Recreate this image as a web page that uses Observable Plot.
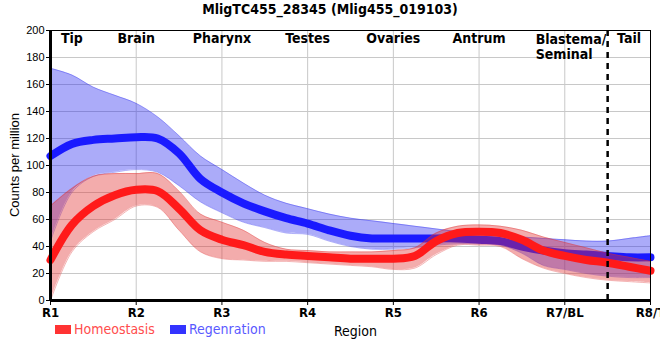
<!DOCTYPE html>
<html><head><meta charset="utf-8">
<script src="https://cdn.jsdelivr.net/npm/d3@7"></script>
<script src="https://cdn.jsdelivr.net/npm/@observablehq/plot@0.6"></script>
<style>
body{margin:0;background:#fff;}
#wrap{position:relative;width:660px;height:360px;overflow:hidden;font-family:"Liberation Sans Narrow","Arial Narrow","DejaVu Sans Condensed",sans-serif;}
#title{position:absolute;top:0px;left:0;width:660px;text-align:center;font-weight:bold;font-size:14px;line-height:18px;}
#chart{position:absolute;top:0;left:0;}
#ylab{position:absolute;left:15px;top:165px;width:200px;margin-left:-100px;margin-top:-8px;text-align:center;transform:rotate(-90deg);font-family:"Liberation Sans",Arial,sans-serif;font-size:13px;line-height:16px;}
.lg{position:absolute;font-size:14px;line-height:16px;}
.sw{position:absolute;width:16px;height:9px;}
</style></head>
<body>
<div id="wrap">
<div id="chart"></div>
<div id="title">MligTC455_28345 (Mlig455_019103)</div>
<div id="ylab">Counts per million</div>
<div class="sw" style="left:55px;top:325px;background:#ff3333"></div>
<div class="lg" style="left:74px;top:321px;color:#ff4d4d">Homeostasis</div>
<div class="sw" style="left:170px;top:325px;background:#3333ff"></div>
<div class="lg" style="left:189px;top:321px;color:#5a5aff">Regenration</div>
<div class="lg" style="left:334px;top:323px;color:#000">Region</div>
</div>
<script>
const xTicks = ["R1","R2","R3","R4","R5","R6","R7/BL","R8/T"];
const regionNames = ["Tip","Brain","Pharynx","Testes","Ovaries","Antrum","Tail"];
const regionLabelX = [1.25, 2, 3, 4, 5, 6, 7.75];
const blastemaLabel = "Blastema/\nSeminal";
const blastemaLabelX = [6.66];
const dividerX = [7.5];

const xs = [1,1.25,1.5,1.75,2,2.25,2.5,2.75,3,3.25,3.5,3.75,4,4.25,4.5,4.75,5,5.25,5.5,5.75,6,6.25,6.5,6.75,7,7.25,7.5,7.75,8];
const homeoMean = [30,56,70,78,82,81,68,52,45,41,36,34,33,32,31,31,31,33,44,50,51,50,45,37,33,30,28,25,22];
const homeoHigh = [70,83,92,94,94,94,81,64,58,52,43,38,37,36,36,36,37,39,50,55,56,55,52,47,43,39,35,32,29];
const homeoLow  = [0,36,51,60,70,69,52,36,31,30,29,29,28,27,26,25,23,24,34,41,41,40,31,24,20,17,15,14,13];
const regenMean = [107,116,119,120,121,120,109,90,80,72,66,61,57,52,48,46,46,46,46,46,45,44,40,37,35,34,33,32,32];
const regenHigh = [172,167,158,152,146,136,122,107,97,87,78,72,68,64,61,59,57,55,53,51,49,48,47,46,45,44,44,46,48];
const regenLow  = [44,80,92,95,97,95,85,73,65,58,54,50,49,44,40,38,38,39,41,42,42,41,35,26,23,20,18,17,17];

const homeo = xs.map((x,i)=>({x, m:homeoMean[i], lo:homeoLow[i], hi:homeoHigh[i]}));
const regen = xs.map((x,i)=>({x, m:regenMean[i], lo:regenLow[i], hi:regenHigh[i]}));
const labels = regionNames.map((n,i)=>({n, x:regionLabelX[i]}));
const curve = "catmull-rom";
const RED = "#ff1a1a", BLUE = "#1a1aff";

const chart = Plot.plot({
  width: 660, height: 345,
  marginLeft: 50, marginRight: 10, marginTop: 30, marginBottom: 45,
  style: {fontFamily: '"Liberation Sans Narrow","Arial Narrow","DejaVu Sans Condensed",sans-serif', background: "transparent", overflow: "visible"},
  x: {domain: [1, 8]},
  y: {domain: [0, 200]},
  marks: [
    Plot.gridX({ticks: d3.range(1, 9), stroke: "#c8c8c8", strokeOpacity: 1}),
    Plot.gridY({ticks: d3.range(0, 201, 20), stroke: "#c8c8c8", strokeOpacity: 1}),
    Plot.areaY(regen, {x: "x", y1: "lo", y2: "hi", fill: "#2222ee", fillOpacity: 0.38, curve}),
    Plot.lineY(regen, {x: "x", y: "hi", stroke: "#2222ee", strokeOpacity: 0.45, strokeWidth: 0.8, curve}),
    Plot.lineY(regen, {x: "x", y: "lo", stroke: "#2222ee", strokeOpacity: 0.45, strokeWidth: 0.8, curve}),
    Plot.lineY(regen, {x: "x", y: "m", stroke: BLUE, strokeWidth: 8, curve}),
    Plot.areaY(homeo, {x: "x", y1: "lo", y2: "hi", fill: "#e03030", fillOpacity: 0.4, curve}),
    Plot.lineY(homeo, {x: "x", y: "hi", stroke: "#e03030", strokeOpacity: 0.45, strokeWidth: 0.8, curve}),
    Plot.lineY(homeo, {x: "x", y: "lo", stroke: "#e03030", strokeOpacity: 0.45, strokeWidth: 0.8, curve}),
    Plot.lineY(homeo, {x: "x", y: "m", stroke: RED, strokeWidth: 8, curve}),
    Plot.ruleX(dividerX, {stroke: "black", strokeWidth: 2.5, strokeDasharray: "6,5"}),
    Plot.frame({stroke: "black", strokeWidth: 1}),
    Plot.ruleX([1], {stroke: "black", strokeWidth: 3}),
    Plot.ruleY([0], {stroke: "black", strokeWidth: 3}),
    Plot.axisX({ticks: d3.range(1, 9), tickFormat: d => xTicks[d - 1], tickSize: 5, tickPadding: 2, fontSize: 13, fontWeight: "bold", label: null}),
    Plot.axisY({ticks: d3.range(0, 201, 20), tickSize: 4, tickPadding: 2, fontSize: 11, label: null, fontFamily: "Liberation Sans, Arial, sans-serif"}),
    Plot.text(labels, {x: "x", text: "n", frameAnchor: "top", lineAnchor: "top", dy: 3, fontSize: 14, fontWeight: "bold", fill: "black"}),
    Plot.text(blastemaLabelX, {x: d => d, text: () => blastemaLabel, frameAnchor: "top", lineAnchor: "top", textAnchor: "start", dy: 3, fontSize: 14, fontWeight: "bold", lineHeight: 1.05, fill: "black"})
  ]
});
document.getElementById("chart").appendChild(chart);
</script>
</body></html>
